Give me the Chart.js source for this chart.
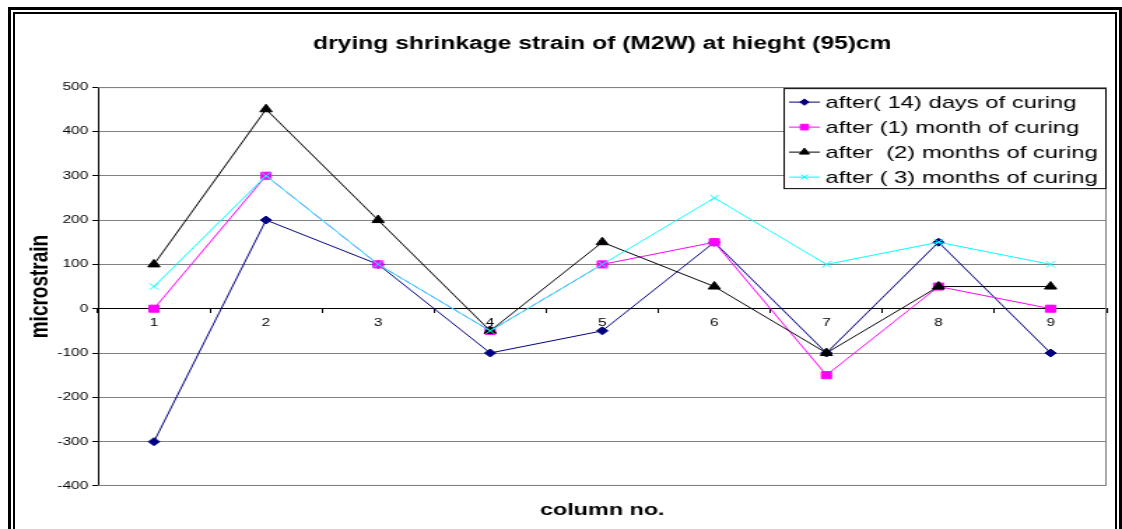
<!DOCTYPE html>
<html>
<head>
<meta charset="utf-8">
<script src="https://cdn.jsdelivr.net/npm/chart.js@4.4.1/dist/chart.umd.min.js"></script>
<style>
  html, body { margin: 0; padding: 0; background: #fff; overflow: hidden; }
  #frame { position: absolute; left: 8px; top: 7px; width: 1108px; height: 540px; border: 3px solid #000; }
  #frame2 { position: absolute; left: 2px; top: 2px; right: 2px; bottom: 2px; border: 2px solid #000; }
  /* o gráfico original é esticado na horizontal */
  #wrap { position: absolute; left: 0; top: 0; width: 802px; height: 529px; transform: scaleX(1.399); transform-origin: 0 0; }
</style>
</head>
<body>
<div id="frame"><div id="frame2"></div></div>
<div id="wrap"><canvas id="shrinkageChart" width="802" height="529"></canvas></div>
<script>
// valores (microstrain)
const columns = ['1', '2', '3', '4', '5', '6', '7', '8', '9'];
const after14Days = [-300, 200, 100, -100, -50, 150, -100, 150, -100];
const after1Month = [0, 300, 100, -50, 100, 150, -150, 50, 0];
const after2Months = [100, 450, 200, -50, 150, 50, -100, 50, 50];
const after3Months = [50, 300, 100, -50, 100, 250, 100, 150, 100];
const seriesNames = [
    'after( 14) days of curing',
    'after (1) month of curing',
    'after  (2) months of curing',
    'after ( 3) months of curing'
];

const FONT = "Arial, 'Liberation Sans', sans-serif";

// borda cinza da área do gráfico
const plotBorder = {
    id: 'plotBorder',
    afterDraw(chart) {
        const a = chart.chartArea, c = chart.ctx;
        c.save();
        c.strokeStyle = '#808080';
        c.lineWidth = 1;
        c.beginPath();
        c.moveTo(a.left, a.top + 0.5);
        c.lineTo(a.right - 0.5, a.top + 0.5);
        c.lineTo(a.right - 0.5, a.bottom - 0.5);
        c.lineTo(a.left, a.bottom - 0.5);
        c.stroke();
        c.restore();
    }
};

// legenda dentro da área do gráfico, canto superior direito
const insideLegend = {
    id: 'insideLegend',
    afterDraw(chart) {
        const a = chart.chartArea, c = chart.ctx;
        const w = 231, h = 101, x = a.right - w, y = a.top + 1;
        c.save();
        c.fillStyle = '#fff';
        c.fillRect(x, y, w, h);
        c.strokeStyle = '#000';
        c.lineWidth = 1;
        c.strokeRect(x + 0.5, y + 0.5, w - 1, h - 1);
        c.font = '17px ' + FONT;
        c.textBaseline = 'middle';
        chart.data.datasets.forEach((ds, i) => {
            const ry = y + 14 + i * 25;
            c.strokeStyle = ds.borderColor;
            c.fillStyle = ds.backgroundColor;
            c.lineWidth = 1;
            c.beginPath();
            c.moveTo(x + 4, ry);
            c.lineTo(x + 26, ry);
            c.stroke();
            Chart.helpers.drawPoint(c, {
                pointStyle: ds.pointStyle,
                radius: ds.pointRadius * 0.8,
                borderWidth: 1
            }, x + 15, ry);
            c.fillStyle = '#000';
            c.fillText(ds.label, x + 30, ry + 1);
        });
        c.restore();
    }
};

function makeDataset(label, data, color, style, radius, order) {
    return {
        label: label,
        data: data,
        borderColor: color,
        backgroundColor: color,
        borderWidth: 1,
        pointStyle: style,
        pointRadius: radius,
        pointHoverRadius: radius,
        pointBorderWidth: 1,
        tension: 0,
        order: order
    };
}

new Chart(document.getElementById('shrinkageChart'), {
    type: 'line',
    data: {
        labels: columns,
        datasets: [
            makeDataset(seriesNames[0], after14Days, '#000080', 'rectRot', 4, 3),
            makeDataset(seriesNames[1], after1Month, '#ff00ff', 'rect', 5, 2),
            makeDataset(seriesNames[2], after2Months, '#000000', 'triangle', 5, 1),
            makeDataset(seriesNames[3], after3Months, '#00ffff', 'crossRot', 4.5, 0)
        ]
    },
    options: {
        responsive: false,
        animation: false,
        layout: { padding: { left: 0, right: 11, top: 0, bottom: 0 } },
        scales: {
            x: {
                position: { y: 0 },
                offset: true,
                grid: { display: true, drawOnChartArea: false, offset: true, tickLength: 4, color: '#000' },
                border: { display: true, color: '#000', width: 1 },
                ticks: { color: '#000', font: { size: 11, family: FONT }, padding: 4, maxRotation: 0 }
            },
            y: {
                min: -400,
                max: 500,
                ticks: { stepSize: 100, color: '#000', font: { size: 11, family: FONT }, padding: 3 },
                grid: { color: '#808080', tickColor: '#000', tickLength: 4 },
                border: { display: true, color: '#000', width: 1 },
                title: {
                    display: true,
                    text: 'microstrain',
                    color: '#000',
                    font: { size: 19, weight: 'bold', family: FONT },
                    padding: { top: 17, bottom: 0 }
                },
                afterFit(scale) { scale.width = 70; }
            }
        },
        plugins: {
            legend: { display: false },
            tooltip: { enabled: false },
            title: {
                display: true,
                fullSize: false,
                text: 'drying shrinkage strain of (M2W) at hieght (95)cm',
                color: '#000',
                font: { size: 17.6, weight: 'bold', family: FONT },
                padding: { top: 34, bottom: 32 }
            },
            subtitle: {
                display: true,
                fullSize: false,
                position: 'bottom',
                text: 'column no.',
                color: '#000',
                font: { size: 16.7, weight: 'bold', family: FONT },
                padding: { top: 14, bottom: 9 }
            }
        }
    },
    plugins: [plotBorder, insideLegend]
});
</script>
</body>
</html>
